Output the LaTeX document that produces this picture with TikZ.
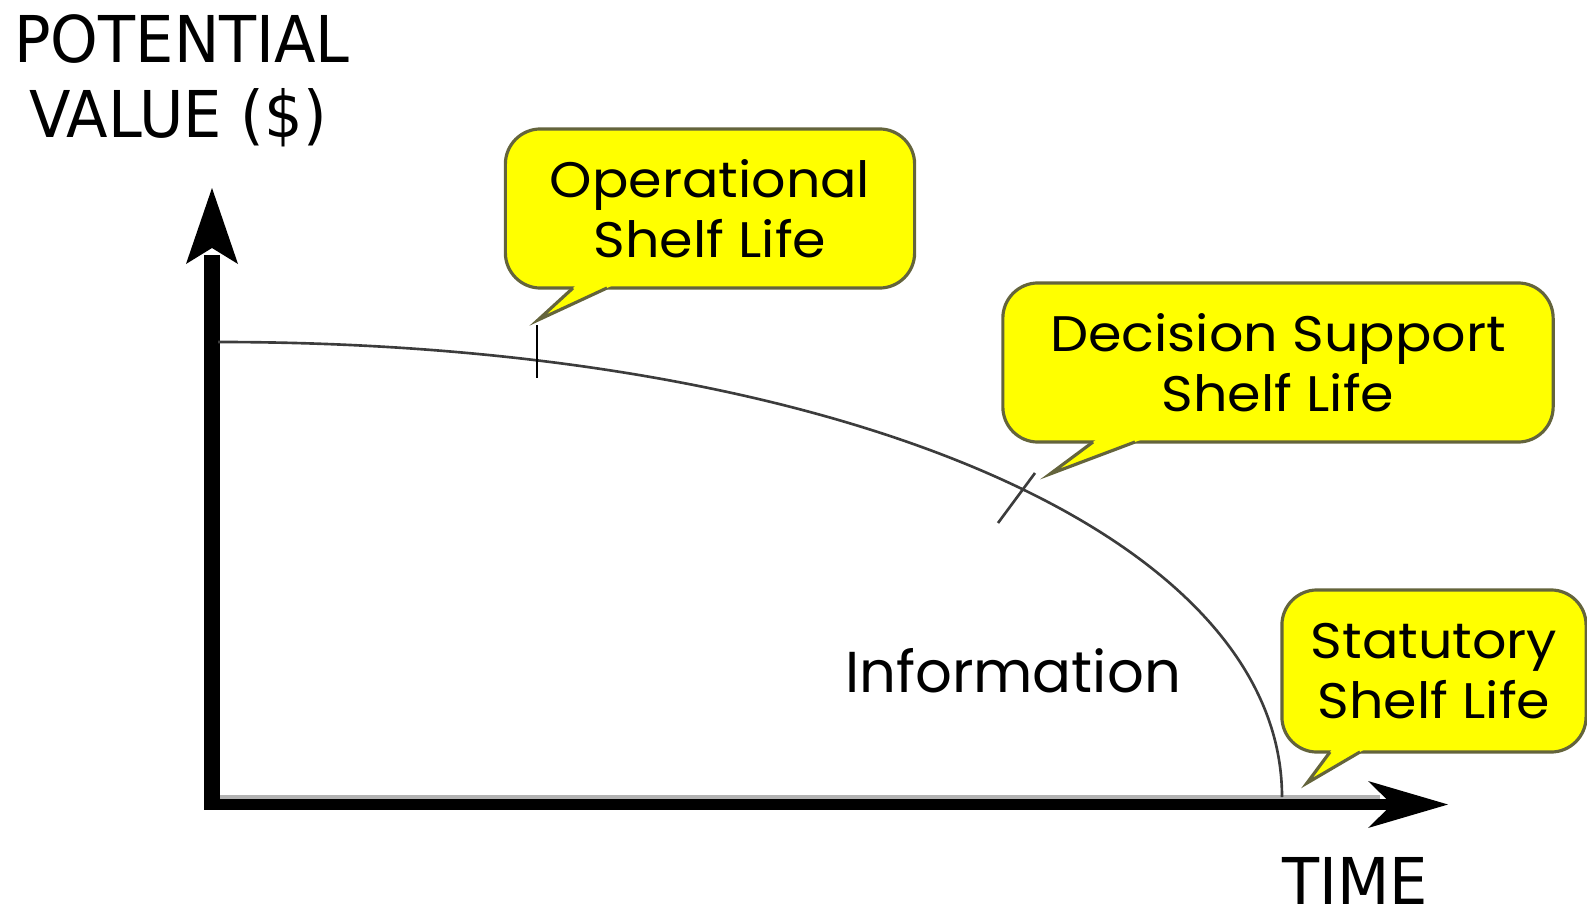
\documentclass[tikz,border=0pt]{standalone}
\usepackage{fontspec}
\usetikzlibrary{calc}
\newfontfamily\callfont{Poppins}[FakeStretch=1.08]
\newfontfamily\infofont{Poppins}
\newfontfamily\axisfont{DejaVu Sans}[FakeStretch=0.94]
\definecolor{callyellow}{RGB}{255,255,0}
\definecolor{callborder}{RGB}{100,100,60}
\definecolor{curvegray}{RGB}{60,60,60}
\begin{document}
\begin{tikzpicture}[x=0.01cm,y=-0.01cm,
  callout/.style={draw=callborder, fill=callyellow, line width=0.9pt, rounded corners=10pt,
    inner sep=0pt, align=center, font=\callfont\fontsize{14.2pt}{17.1pt}\selectfont},
  pointerline/.style={draw=callborder, line width=0.9pt, line join=miter},
  axislabel/.style={inner sep=0pt, font=\axisfont\fontsize{18.35pt}{22pt}\selectfont},
  curveline/.style={draw=curvegray, line width=0.75pt},
  axisfill/.style={fill=black}]
\useasboundingbox (0,0) rectangle (1587,906);

% axes
\fill[black!30] (220,795) rectangle (1380,799);
\fill[axisfill] (204,803) rectangle (220,255);
\fill[axisfill] (212,188) -- (238,264) -- (212,248) -- (186,264) -- cycle;
\fill[axisfill] (204,799) rectangle (1395,810);
\fill[axisfill] (1448,804.5) -- (1368,781) -- (1392,804.5) -- (1368,828) -- cycle;

% value curve
\coordinate (cstart) at (218,342);
\coordinate (cend) at (1282,797);
\draw[curveline] (cstart) .. controls (835,342) and (1282,533) .. (cend);

% ticks
\coordinate (tk1a) at (537,325);
\coordinate (tk1b) at (537,378);
\draw[black, line width=0.8pt] (tk1a) -- (tk1b);
\coordinate (tk2a) at (1035,473);
\coordinate (tk2b) at (998,523);
\draw[curvegray, line width=0.75pt] (tk2a) -- (tk2b);

% callouts
\node[callout, minimum width=4.09cm, minimum height=1.59cm] (ops) at (710,208.5) {Operational\\Shelf Life};
\node[callout, minimum width=5.50cm, minimum height=1.59cm] (dec) at (1278,362.5) {Decision Support\\Shelf Life};
\node[callout, minimum width=3.04cm, minimum height=1.62cm] (stat) at (1434,671) {Statutory\\Shelf Life};

% pointers
\coordinate (t1) at (538,320);
\coordinate (b1a) at (573,288);
\coordinate (b1b) at (607,288);
\fill[callyellow] ($(t1)!1.15!(b1a)$) -- (t1) -- ($(t1)!1.15!(b1b)$) -- cycle;
\draw[pointerline] (b1a) -- (t1) -- (b1b);

\coordinate (t2) at (1050,474);
\coordinate (b2a) at (1093,442);
\coordinate (b2b) at (1135,442);
\fill[callyellow] ($(t2)!1.15!(b2a)$) -- (t2) -- ($(t2)!1.15!(b2b)$) -- cycle;
\draw[pointerline] (b2a) -- (t2) -- (b2b);

\coordinate (t3) at (1307,783);
\coordinate (b3a) at (1330,752);
\coordinate (b3b) at (1360,752);
\fill[callyellow] ($(t3)!1.15!(b3a)$) -- (t3) -- ($(t3)!1.15!(b3b)$) -- cycle;
\draw[pointerline] (b3a) -- (t3) -- (b3b);

% labels
\node[axislabel, anchor=base] (ylab1) at (182,62) {POTENTIAL};
\node[axislabel, anchor=base] (ylab2) at (178,137) {VALUE (\$)};
\node[axislabel, anchor=base] (xlab) at (1355,904) {TIME};
\node[anchor=base, inner sep=0pt, font=\infofont\fontsize{16.4pt}{20pt}\selectfont] (info) at (1013,692) {Information};
\end{tikzpicture}
\end{document}
